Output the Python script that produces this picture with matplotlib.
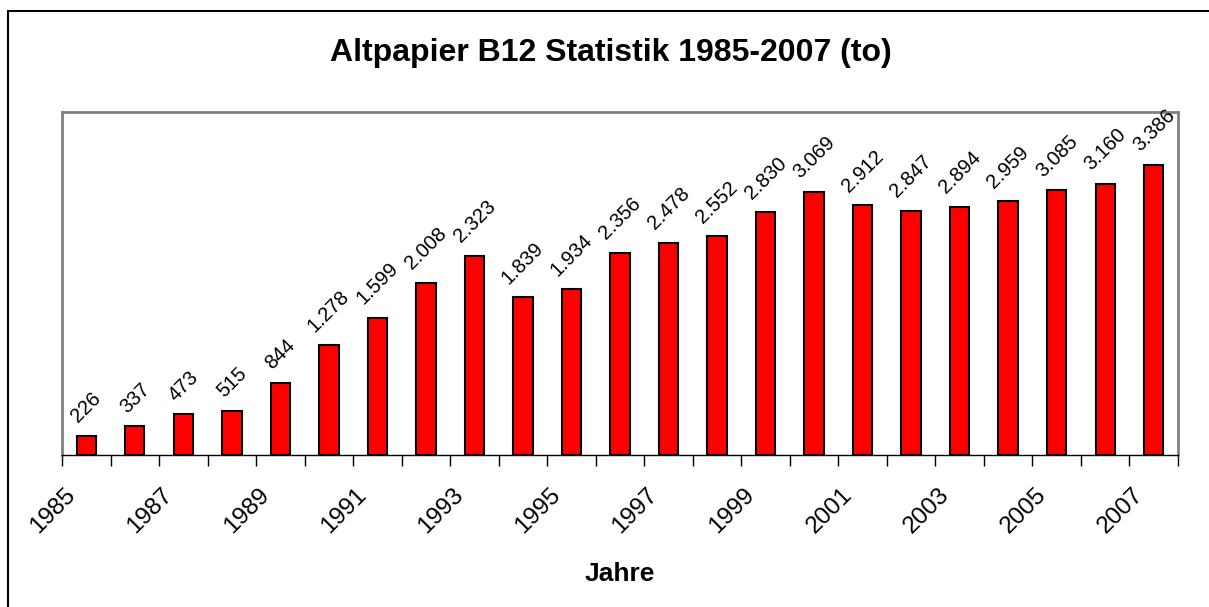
import numpy as np
import matplotlib
matplotlib.use("Agg")
import matplotlib.pyplot as plt
from matplotlib.patches import Rectangle
from matplotlib.transforms import ScaledTranslation

plt.rcParams['font.family'] = ['Liberation Sans', 'DejaVu Sans']

# Daten: Altpapier B12 (to)
jahre = list(range(1985, 2008))
werte = [226, 337, 473, 515, 844, 1278, 1599, 2008, 2323, 1839, 1934, 2356,
         2478, 2552, 2830, 3069, 2912, 2847, 2894, 2959, 3085, 3160, 3386]
beschriftung = ["226", "337", "473", "515", "844", "1.278", "1.599", "2.008",
                "2.323", "1.839", "1.934", "2.356", "2.478", "2.552", "2.830",
                "3.069", "2.912", "2.847", "2.894", "2.959", "3.085", "3.160",
                "3.386"]

fig = plt.figure(figsize=(12.09, 6.07), dpi=100)
ax = fig.add_axes([62 / 1209, 1 - 455 / 607, (1178 - 62) / 1209, (455 - 112) / 607])

# aeusserer Rahmen
fig.patches.append(Rectangle((8 / 1209, -0.1), 1.2, 1 - 11 / 607 + 0.1,
                             transform=fig.transFigure, fill=False,
                             edgecolor='black', linewidth=1.5))

x = np.arange(len(jahre))
ax.bar(x, werte, width=0.4, color='#ff0000', edgecolor='black', linewidth=1.5, zorder=3)

for i in range(len(werte)):
    ax.annotate(beschriftung[i], (x[i], werte[i]), xytext=(0, 7), textcoords='offset points',
                rotation=45, ha='center', va='bottom', fontsize=14.5)

ax.set_xlim(-0.5, len(jahre) - 0.5)
ax.set_ylim(0, 4000)
ax.set_yticks([])

# Striche an den Kategoriegrenzen, Beschriftung jedes zweite Jahr
ax.set_xticks(np.arange(-0.5, len(jahre), 1.0))
ax.set_xticklabels([])
ax.tick_params(axis='x', which='major', length=8, width=1, color='black', direction='out')
ax.set_xticks(x[::2], minor=True)
ax.set_xticklabels([str(j) for j in jahre[::2]], minor=True, fontsize=17.5,
                   rotation=45, ha='right', va='top', rotation_mode='anchor')
ax.tick_params(axis='x', which='minor', length=0, pad=0)
offset = ScaledTranslation(-22 / 100, -29 / 100, fig.dpi_scale_trans)
for lab in ax.get_xticklabels(minor=True):
    lab.set_transform(lab.get_transform() + offset)

for s in ['left', 'top', 'right']:
    ax.spines[s].set_color('#808080')
    ax.spines[s].set_linewidth(2)
ax.spines['bottom'].set_color('black')
ax.spines['bottom'].set_linewidth(1)

fig.text(611 / 1209, 1 - 60.7 / 607, 'Altpapier B12 Statistik 1985-2007 (to)',
         ha='center', va='baseline', fontsize=23, fontweight='bold')
fig.text(620 / 1209, 1 - 581 / 607, 'Jahre', ha='center', va='baseline',
         fontsize=19, fontweight='bold')

fig.savefig('out.png', dpi=100)
